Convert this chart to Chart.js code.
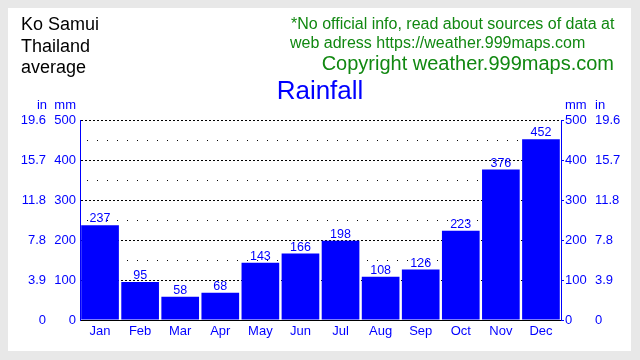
<!DOCTYPE html>
<html>
<head>
<meta charset="utf-8">
<script src="https://cdn.jsdelivr.net/npm/chart.js@4"></script>
<style>
html,body{margin:0;padding:0;background:#e8e8e8;}
#wrap{width:640px;height:360px;position:relative;}
</style>
</head>
<body>
<div id="wrap"><canvas id="c" width="640" height="360"></canvas></div>
<script>
const months = ['Jan','Feb','Mar','Apr','May','Jun','Jul','Aug','Sep','Oct','Nov','Dec'];
const rainfallMm = [237,95,58,68,143,166,198,108,126,223,376,452];
const mmTicks = ['0','100','200','300','400','500'];
const inTicks = ['0','3.9','7.8','11.8','15.7','19.6'];
const titleText = 'Rainfall';
const placeLines = ['Ko Samui','Thailand','average'];
const noteLines = ['*No official info, read about sources of data at','web adress https://weather.999maps.com'];
const copyrightText = 'Copyright weather.999maps.com';

const FONT = '"Liberation Sans", Arial, Helvetica, sans-serif';
const BLUE = '#0000ff';

const decor = {
  id: 'decor',
  beforeDraw(chart) {
    const ctx = chart.ctx;
    ctx.save();
    ctx.fillStyle = '#e8e8e8';
    ctx.fillRect(0, 0, 640, 360);
    ctx.fillStyle = '#ffffff';
    ctx.fillRect(8, 8, 623, 343);
    ctx.restore();
  },
  afterDraw(chart) {
    const ctx = chart.ctx;
    ctx.save();
    // place
    ctx.fillStyle = '#000000';
    ctx.font = '18px ' + FONT;
    ctx.textAlign = 'left';
    ctx.textBaseline = 'alphabetic';
    placeLines.forEach((t, i) => ctx.fillText(t, 21, 30 + i * 21.5));
    // notes
    ctx.fillStyle = '#118811';
    ctx.font = '16px ' + FONT;
    ctx.fillText(noteLines[0], 291, 29);
    ctx.fillText(noteLines[1], 290, 48);
    ctx.font = '20px ' + FONT;
    ctx.textAlign = 'right';
    ctx.fillText(copyrightText, 614, 70);
    // title
    ctx.fillStyle = BLUE;
    ctx.font = '26px ' + FONT;
    ctx.textAlign = 'center';
    ctx.fillText(titleText, 320, 99);
    // unit headers
    ctx.font = '13px ' + FONT;
    ctx.textBaseline = 'middle';
    ctx.textAlign = 'right';
    ctx.fillText('in', 47, 105);
    ctx.fillText('mm', 76, 105);
    ctx.textAlign = 'left';
    ctx.fillText('mm', 565, 105);
    ctx.fillText('in', 595, 105);
    // value labels
    ctx.font = '12.5px ' + FONT;
    ctx.textAlign = 'center';
    ctx.textBaseline = 'alphabetic';
    const meta = chart.getDatasetMeta(0);
    meta.data.forEach((bar, i) => {
      ctx.fillText(String(rainfallMm[i]), bar.x, bar.y - 3);
    });
    ctx.restore();
  }
};

const tickFont = { family: FONT, size: 13 };
function fixW(w) { return s => { s.width = w; }; }

new Chart(document.getElementById('c'), {
  type: 'bar',
  data: {
    labels: months,
    datasets: [{
      data: rainfallMm,
      backgroundColor: BLUE,
      borderWidth: 0,
      barPercentage: 0.94,
      categoryPercentage: 1.0
    }]
  },
  options: {
    responsive: false,
    animation: false,
    devicePixelRatio: 1,
    layout: { padding: { left: 10, right: 15, top: 120, bottom: 16 } },
    plugins: { legend: { display: false }, title: { display: false }, tooltip: { enabled: false } },
    scales: {
      x: {
        type: 'category',
        offset: true,
        grid: { display: false, drawTicks: false },
        border: { display: true, color: '#000000', width: 1 },
        ticks: { color: BLUE, font: tickFont, padding: 4, maxRotation: 0, autoSkip: false },
        afterFit: s => { s.height = 24; }
      },
      y: {
        position: 'left',
        weight: 0,
        min: 0, max: 500,
        grid: {
          color: '#000000',
          lineWidth: 1,
          drawTicks: false
        },
        border: {
          display: true,
          color: BLUE,
          width: 1,
          dash: ctx => (ctx.tick && ctx.tick.value % 100 === 0) ? [2, 2] : [1, 9],
          dashOffset: ctx => (ctx.tick && ctx.tick.value % 100 === 0) ? 0 : -6
        },
        ticks: {
          stepSize: 50,
          color: BLUE, font: tickFont, padding: 4,
          callback: v => (v % 100 === 0) ? mmTicks[v / 100] : ''
        },
        afterFit: fixW(32)
      },
      yIn: {
        position: 'left',
        weight: 1,
        min: 0, max: 500,
        grid: { display: false, drawTicks: false },
        border: { display: false },
        ticks: {
          stepSize: 100,
          color: BLUE, font: tickFont, padding: 2,
          callback: v => inTicks[v / 100]
        },
        afterFit: fixW(38)
      },
      yR: {
        position: 'right',
        weight: 0,
        min: 0, max: 500,
        grid: { drawOnChartArea: false, drawTicks: true, tickLength: 3, color: BLUE },
        border: { display: true, color: BLUE, width: 1 },
        ticks: {
          stepSize: 100,
          color: BLUE, font: tickFont, padding: 1,
          callback: v => mmTicks[v / 100]
        },
        afterFit: fixW(34)
      },
      yRIn: {
        position: 'right',
        weight: 1,
        min: 0, max: 500,
        grid: { display: false, drawTicks: false },
        border: { display: false },
        ticks: {
          stepSize: 100,
          color: BLUE, font: tickFont, padding: 0,
          callback: v => inTicks[v / 100]
        },
        afterFit: fixW(30)
      }
    }
  },
  plugins: [decor]
});
</script>
</body>
</html>
